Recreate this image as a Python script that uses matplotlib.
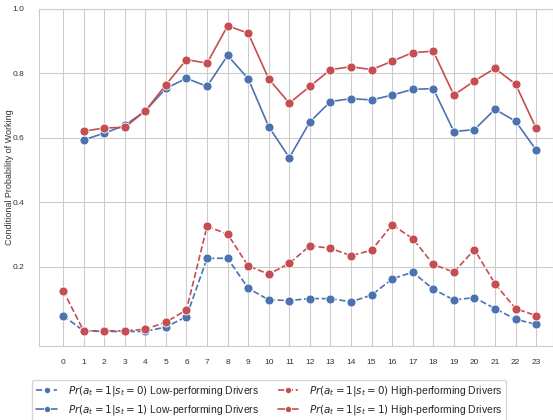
import matplotlib
matplotlib.use("Agg")
import matplotlib.pyplot as plt
import seaborn as sns
import numpy as np

sns.set_style("whitegrid")
plt.rcParams['font.family'] = ['Liberation Sans', 'DejaVu Sans']
plt.rcParams['mathtext.fontset'] = 'dejavusans'

hours = list(range(24))
hours_s1 = list(range(1, 24))

# Pr(a=1 | s=0)
low_s0 = [0.049, 0.002, 0.0, 0.0, 0.0, 0.014, 0.046, 0.227, 0.227, 0.134, 0.098, 0.096,
          0.102, 0.102, 0.092, 0.113, 0.163, 0.184, 0.131, 0.098, 0.105, 0.071, 0.038, 0.022]
high_s0 = [0.127, 0.002, 0.002, 0.002, 0.007, 0.029, 0.067, 0.326, 0.302, 0.203, 0.178, 0.211,
           0.266, 0.258, 0.235, 0.252, 0.331, 0.288, 0.208, 0.184, 0.254, 0.148, 0.071, 0.049]
# Pr(a=1 | s=1), no value at hour 0
low_s1 = [0.594, 0.615, 0.639, 0.684, 0.754, 0.785, 0.760, 0.856, 0.784, 0.635, 0.539,
          0.650, 0.713, 0.722, 0.718, 0.733, 0.751, 0.753, 0.620, 0.626, 0.689, 0.652, 0.563]
high_s1 = [0.621, 0.631, 0.633, 0.684, 0.765, 0.843, 0.832, 0.948, 0.925, 0.783, 0.708,
           0.760, 0.812, 0.821, 0.812, 0.838, 0.865, 0.869, 0.733, 0.777, 0.816, 0.767, 0.630]

blue = '#4C72B0'
red = '#C44E52'

fig = plt.figure(figsize=(5.53, 4.2), dpi=100)
ax = fig.add_axes([39/553, 74/420, 514/553, 337/420])

kw = dict(marker='o', markersize=6.5, markeredgecolor='white', markeredgewidth=0.6, linewidth=1.2)
l1, = ax.plot(hours, low_s0, '--', color=blue, label=r'$Pr(a_t=1|s_t=0)$ Low-performing Drivers', **kw)
l2, = ax.plot(hours_s1, low_s1, '-', color=blue, label=r'$Pr(a_t=1|s_t=1)$ Low-performing Drivers', **kw)
l3, = ax.plot(hours, high_s0, '--', color=red, label=r'$Pr(a_t=1|s_t=0)$ High-performing Drivers', **kw)
l4, = ax.plot(hours_s1, high_s1, '-', color=red, label=r'$Pr(a_t=1|s_t=1)$ High-performing Drivers', **kw)

ax.set_xlim(-1.17, 23.82)
ax.set_ylim(-0.045, 1.0)
ax.set_xticks(hours)
ax.set_yticks([0.2, 0.4, 0.6, 0.8, 1.0])
ax.tick_params(labelsize=6, colors='#333333', pad=6)
ax.tick_params(axis='y', pad=7)
ax.set_ylabel('Conditional Probability of Working', fontsize=6.5, color='#333333')
ax.yaxis.set_label_coords(-25/514, 0.5)

fig.legend(handles=[l1, l2, l3, l4], ncol=2, loc='upper left',
           bbox_to_anchor=(27/553, 1 - 375/420), fontsize=7.5,
           markerscale=0.7, handlelength=2.0, handletextpad=1.0,
           columnspacing=1.8, labelspacing=0.45, frameon=True)

fig.savefig('out.png', dpi=100)
